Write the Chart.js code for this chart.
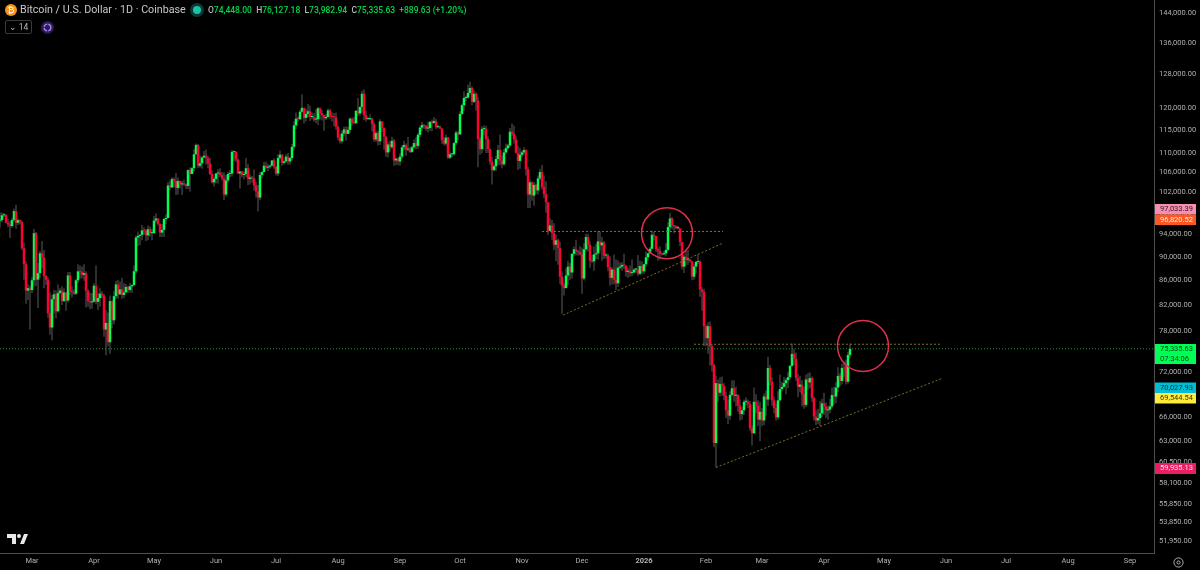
<!DOCTYPE html>
<html>
<head>
<meta charset="utf-8">
<title>Bitcoin / U.S. Dollar</title>
<script src="https://cdn.jsdelivr.net/npm/chart.js@4/dist/chart.umd.min.js"></script>
<style>
    html, body { margin: 0; background: #000; }
    #wrap { position: relative; width: 1200px; height: 570px; overflow: hidden; font-family: Roboto, sans-serif; }
    canvas { position: absolute; left: 0; top: 0; }
    .abs { position: absolute; white-space: nowrap; }
    #title { left: 20px; top: 2px; font-size: 10.7px; line-height: 16px; color: #c8c8c8; }
    #ohlc { left: 208px; top: 3px; font-size: 8.5px; line-height: 14px; color: #00d84a; font-weight: 500; }
    #ohlc b { color: #b8b8b8; font-weight: 500; }
    #btc { left: 5px; top: 4px; width: 12px; height: 12px; border-radius: 50%; background: #f7931a; color: #fff; font-size: 9px; line-height: 12px; text-align: center; }
    #live { left: 193px; top: 6px; width: 8px; height: 8px; border-radius: 50%; background: #1fbfa5; box-shadow: 0 0 0 3px #0a3a34; }
    #studies { left: 5px; top: 20px; width: 25px; height: 12px; border: 1px solid #3a3a3a; border-radius: 2px; color: #b8b8b8; font-size: 8.5px; line-height: 12px; text-align: center; }
</style>
</head>
<body>
<div id="wrap">
    <canvas id="chart" width="1200" height="570"></canvas>
    <div class="abs" id="btc">₿</div>
    <div class="abs" id="title">Bitcoin / U.S. Dollar · 1D · Coinbase</div>
    <div class="abs" id="live"></div>
    <div class="abs" id="ohlc"><b>O</b>74,448.00 &nbsp;<b>H</b>76,127.18 &nbsp;<b>L</b>73,982.94 &nbsp;<b>C</b>75,335.63 &nbsp;+889.63 (+1.20%)</div>
    <div class="abs" id="studies">⌄ 14</div>
    <svg class="abs" style="left:41px;top:21px" width="13" height="13" viewBox="0 0 13 13">
        <circle cx="6.5" cy="6.5" r="6.5" fill="#2a1a55"/>
        <circle cx="6.5" cy="6.5" r="3.4" fill="none" stroke="#a583e8" stroke-width="1.4" stroke-dasharray="4.5 1"/>
    </svg>
    <svg class="abs" style="left:7px;top:533px" width="21" height="12" viewBox="0 0 21 12">
        <path d="M0 1h9v10H5V5H0zM13 11l4-10h4l-4 10z" fill="#e8e8e8"/>
        <circle cx="12" cy="3" r="2" fill="#e8e8e8"/>
    </svg>
    <svg class="abs" style="left:1172px;top:556px" width="13" height="13" viewBox="0 0 13 13">
        <circle cx="6.5" cy="6.5" r="4.6" fill="none" stroke="#b0b0b0" stroke-width="1"/>
        <circle cx="6.5" cy="6.5" r="1.6" fill="none" stroke="#b0b0b0" stroke-width="1"/>
    </svg>
</div>
<script>
// Harga harian dalam ribuan USD, mulai 13 Feb 2025, satu baris per bulan
const opens = [
    96.5,96.6,97.5,97.6,96.1,95.8,95.5,96.6,98.3,96.1,96.6,96.2,91.5,88.7,84.3,84.7,
    84.4,86.0,94.2,86.1,87.2,90.6,89.9,86.7,86.1,80.7,78.5,82.9,83.7,81.0,83.9,84.3,82.6,84.0,82.7,86.8,84.2,84.0,83.8,86.0,87.5,87.4,86.9,87.2,84.3,82.6,82.4,
    82.5,85.1,82.5,83.1,83.8,83.5,78.2,79.2,76.3,82.6,79.6,83.4,85.3,83.7,84.5,83.6,84.0,84.9,84.4,85.0,85.2,87.5,93.4,93.7,93.9,94.7,94.6,93.8,94.9,94.2,
    94.2,96.5,96.9,95.9,94.3,94.8,96.8,97.0,103.3,102.9,104.6,104.1,102.8,104.2,103.5,103.7,103.5,103.2,106.4,105.6,106.8,109.7,111.7,107.3,107.8,109.0,109.4,108.9,107.8,105.6,103.9,
    104.6,105.7,105.9,105.4,104.7,101.5,104.3,105.6,105.7,110.2,110.2,108.6,105.7,106.1,105.4,105.6,106.8,104.6,104.9,104.7,103.3,102.1,100.9,105.4,106.0,107.3,106.9,107.1,107.3,108.4,
    107.1,105.7,108.9,109.6,107.9,108.2,109.2,108.2,108.9,111.3,116.0,117.5,117.4,119.1,120.0,117.7,118.6,119.2,117.9,117.9,117.3,117.4,119.9,118.8,118.3,117.6,117.9,119.4,118.0,117.9,117.8,
    115.7,113.3,112.5,114.2,115.1,114.1,115.0,117.5,116.6,116.5,119.3,118.7,120.2,123.3,118.3,117.4,117.4,117.5,116.3,112.9,114.3,112.5,116.9,115.4,113.5,110.1,111.8,111.2,112.6,108.4,108.8,
    108.2,109.2,111.2,111.7,110.7,110.7,110.2,111.2,112.1,111.5,113.9,115.5,116.1,115.9,115.3,115.4,116.8,116.5,117.0,115.6,115.7,115.3,112.7,112.0,113.3,109.0,109.7,109.7,112.1,114.4,
    114.0,118.6,120.6,122.3,122.4,123.5,124.7,121.4,123.3,121.7,113.0,110.8,115.2,115.3,113.0,110.8,108.2,106.4,107.2,108.7,110.6,108.4,107.6,110.1,111.0,111.6,114.6,114.1,112.9,110.0,108.3,
    109.6,110.1,110.6,106.6,101.5,103.9,101.3,103.4,102.3,104.7,106.0,103.0,101.6,100.0,94.6,95.6,94.2,92.1,92.9,91.5,86.6,85.1,84.7,86.8,88.3,87.3,90.5,91.3,90.9,90.8,
    90.4,86.3,91.3,93.5,92.1,89.3,89.2,90.4,90.6,92.7,92.0,92.5,90.2,90.2,88.2,86.4,87.8,86.1,85.5,88.1,88.3,88.6,88.5,87.4,87.6,87.2,87.3,87.8,87.8,87.1,88.4,
    87.5,88.7,89.9,90.6,91.4,93.9,93.7,91.3,91.0,90.5,90.4,90.6,91.2,95.3,96.9,95.6,95.5,95.1,95.1,92.6,88.3,90.0,89.5,89.5,89.2,86.6,88.3,89.1,89.2,84.5,84.1,
    78.7,76.9,78.7,75.7,73.0,62.8,70.5,69.2,70.4,70.1,68.8,66.9,66.2,68.9,69.8,68.8,68.9,67.5,66.4,66.9,68.0,68.0,67.7,64.6,64.0,68.0,67.5,65.7,
    66.7,65.6,68.7,68.3,72.6,70.7,68.2,67.2,66.0,68.2,69.7,70.0,70.5,70.9,71.3,72.9,74.6,73.9,71.2,70.0,70.3,69.0,67.6,71.0,70.6,71.2,68.5,66.1,65.6,65.9,66.5,
    67.8,67.4,66.9,67.0,67.4,68.9,68.7,69.9,71.5,70.8,72.6,72.9,70.7,74.448
];
const highs = [
    98.1,98.0,98.0,97.7,96.9,96.5,97.0,98.8,99.5,96.9,96.7,96.5,92.5,89.2,85.4,85.1,
    86.5,95.0,94.4,88.9,91.0,92.8,91.2,86.9,86.5,84.0,83.6,84.4,84.3,85.3,84.7,85.0,84.7,84.0,87.4,87.4,85.0,84.5,86.2,88.7,88.5,88.3,88.7,87.5,84.6,83.9,83.9,
    85.5,88.5,83.9,84.7,84.2,83.8,81.2,80.8,83.5,82.7,84.2,85.9,86.1,85.8,86.4,85.5,85.4,85.1,85.6,85.3,88.5,93.8,94.5,94.0,95.7,95.3,95.0,95.6,95.4,95.0,
    97.4,97.9,97.0,96.0,95.9,97.0,97.7,104.0,104.3,104.9,104.9,105.8,104.9,104.2,104.2,104.5,103.7,106.6,107.0,107.0,110.8,112.0,111.9,109.5,109.3,110.4,110.7,109.3,108.9,106.3,105.0,
    105.8,106.6,106.8,106.0,105.9,105.4,106.0,106.4,110.6,110.4,110.4,108.8,106.2,106.2,106.1,108.9,107.7,105.5,105.2,106.5,104.0,103.4,106.0,106.2,108.1,108.2,107.7,107.5,108.5,108.8,
    107.2,109.7,110.5,109.7,108.4,109.7,110.0,109.2,111.9,116.9,118.9,118.0,119.5,123.2,120.0,119.8,120.9,120.5,118.9,118.8,119.7,120.2,120.0,119.5,118.4,118.5,119.8,119.8,119.0,118.8,118.9,
    116.0,114.0,114.8,115.7,115.8,115.7,117.8,117.7,117.9,119.5,122.3,120.3,124.0,124.4,119.3,117.9,118.5,117.7,116.8,114.7,114.8,117.4,117.0,115.6,113.6,112.4,112.6,113.5,113.0,108.9,109.0,
    109.9,111.7,112.6,112.0,113.4,111.3,111.5,112.9,113.3,114.3,115.9,116.8,116.3,116.1,116.8,117.0,117.3,117.9,117.5,116.1,116.0,115.4,113.4,114.0,113.5,110.3,109.9,112.3,114.8,114.7,
    119.2,121.0,123.9,122.9,125.5,126.2,125.1,124.1,123.7,122.5,113.4,115.8,116.0,115.9,113.6,111.0,109.2,107.5,109.4,111.7,114.0,109.5,110.9,112.0,111.9,115.4,116.4,116.0,113.6,111.6,111.1,
    110.5,111.2,110.8,107.1,104.5,104.1,104.0,103.6,105.3,106.7,107.5,105.3,104.1,99.8,97.0,96.6,96.0,93.9,93.2,92.6,87.5,85.5,88.0,89.3,88.9,90.6,91.8,93.0,91.2,91.9,
    91.6,92.4,94.1,94.1,92.7,90.3,91.8,92.3,94.6,94.5,93.5,92.8,90.6,90.5,90.1,88.2,90.4,89.5,89.4,89.0,89.1,90.5,88.3,88.0,88.5,89.5,88.0,88.1,90.3,89.3,89.2,
    88.8,90.9,90.7,91.7,94.7,94.4,93.5,91.6,91.8,90.7,91.0,92.4,96.2,97.9,97.2,95.7,95.6,95.5,93.3,92.5,90.4,91.0,91.2,89.7,89.2,88.7,89.3,90.4,89.4,84.9,84.6,
    79.0,79.3,79.4,76.0,73.2,71.5,71.0,71.3,71.4,70.5,69.3,68.3,69.4,70.9,70.9,70.0,69.0,68.3,67.3,68.3,68.6,68.3,68.1,65.0,69.9,69.0,68.2,68.0,
    67.2,69.1,69.5,74.2,73.0,71.3,68.7,67.8,69.4,71.7,70.7,71.3,71.2,72.0,73.0,76.1,75.3,74.8,71.8,71.5,70.9,70.0,71.7,71.9,72.0,71.4,68.7,66.9,67.1,68.1,68.4,
    69.2,67.9,67.5,68.4,69.9,70.0,70.6,72.7,71.9,73.2,73.5,73.8,74.9,76.127
];
const lows = [
    95.2,96.2,97.2,96.0,95.3,93.3,95.2,96.4,95.0,95.7,95.8,91.2,86.1,82.2,82.8,78.2,
    83.9,85.0,85.0,81.5,86.4,88.0,84.7,85.2,80.0,77.4,76.6,80.6,79.9,80.8,83.7,82.0,82.5,81.1,82.4,83.6,83.2,83.6,83.6,85.5,86.3,86.3,85.9,81.6,81.7,81.3,81.4,
    82.4,82.1,81.2,81.7,83.1,77.1,74.4,75.7,74.6,78.4,79.0,83.0,83.0,83.6,83.0,83.1,84.1,83.9,84.0,83.9,85.0,87.1,91.9,92.0,92.9,93.9,92.8,92.9,93.6,92.9,
    94.1,96.0,95.6,93.5,93.5,93.5,95.9,96.9,102.3,102.8,103.0,101.4,101.5,102.7,101.4,103.2,102.6,102.6,102.1,105.8,106.1,109.5,106.8,106.9,106.7,108.9,107.5,106.8,105.4,103.7,103.1,
    103.7,103.7,105.0,104.3,100.4,101.1,103.9,105.0,105.1,108.3,108.1,105.6,102.7,104.9,104.5,105.0,103.4,103.5,103.9,102.3,100.9,98.2,100.4,104.7,105.9,106.7,106.2,106.7,107.3,106.7,
    105.3,105.2,108.6,107.3,107.5,107.9,107.5,107.5,108.4,110.5,115.2,116.9,117.2,118.9,116.4,116.9,117.8,117.0,117.3,116.8,116.5,116.1,117.3,117.1,114.8,117.2,117.8,117.4,116.9,115.8,115.0,
    112.7,112.0,112.0,113.6,112.6,114.3,114.3,115.9,116.3,116.3,118.1,118.2,118.9,117.2,116.8,117.3,117.2,114.7,112.4,112.4,111.6,111.7,114.6,110.7,109.2,109.0,110.3,110.9,107.3,107.4,107.4,
    107.3,108.7,110.5,109.4,110.4,110.0,110.0,110.9,110.7,110.9,113.4,114.7,115.2,114.8,114.4,114.8,114.7,116.8,115.2,115.4,115.2,111.9,111.6,111.6,108.7,108.7,109.1,109.4,111.6,112.7,
    113.9,118.4,119.3,121.6,122.1,123.0,120.6,121.1,119.4,107.0,109.6,109.9,113.8,110.0,110.0,107.5,103.5,106.1,106.2,107.5,107.4,106.8,107.3,109.7,110.8,111.3,113.7,112.0,109.9,106.4,106.7,
    109.2,109.6,105.3,98.9,98.9,100.3,99.3,101.6,101.5,104.4,102.5,100.8,98.0,93.9,94.6,93.0,91.2,89.2,88.6,85.4,80.6,83.5,85.3,85.2,86.1,86.3,90.1,90.2,90.2,90.2,
    83.8,86.0,90.9,90.9,88.1,88.9,87.6,89.6,89.5,91.1,89.3,89.6,89.7,87.6,85.1,85.3,85.3,84.4,84.9,87.9,87.6,87.9,86.6,86.4,86.6,86.7,87.3,87.3,86.7,86.9,87.1,
    87.0,88.3,89.3,90.5,91.3,92.9,90.8,89.3,89.5,90.2,90.3,90.1,91.0,94.5,94.9,94.2,94.9,94.9,91.9,87.8,87.2,88.5,88.6,89.0,86.0,86.1,87.1,88.7,83.3,81.1,75.7,
    75.7,74.6,72.9,72.1,62.3,59.935,68.0,68.7,68.8,68.2,65.9,65.1,65.7,68.7,68.0,67.4,66.7,65.6,65.7,66.3,67.5,67.2,64.3,62.5,63.9,66.5,64.9,63.0,
    64.9,65.0,66.2,67.5,70.2,67.5,66.5,65.6,65.7,68.0,69.4,69.9,69.0,69.8,71.0,72.7,73.0,70.8,68.6,69.3,67.4,67.1,67.3,69.6,69.8,68.0,65.6,65.0,65.1,64.9,66.0,
    66.3,65.9,65.7,66.5,67.2,67.6,67.8,69.3,70.1,70.3,71.3,70.3,70.4,73.983
];
const closes = [
    96.6,97.5,97.6,96.1,95.8,95.5,96.6,98.3,96.1,96.6,96.2,91.5,88.7,84.3,84.7,84.4,
    86.0,94.2,86.1,87.2,90.6,89.9,86.7,86.1,80.7,78.5,82.9,83.7,81.0,83.9,84.3,82.6,84.0,82.7,86.8,84.2,84.0,83.8,86.0,87.5,87.4,86.9,87.2,84.3,82.6,82.4,82.5,
    85.1,82.5,83.1,83.8,83.5,78.2,79.2,76.3,82.6,79.6,83.4,85.3,83.7,84.5,83.6,84.0,84.9,84.4,85.0,85.2,87.5,93.4,93.7,93.9,94.7,94.6,93.8,94.9,94.2,94.2,
    96.5,96.9,95.9,94.3,94.8,96.8,97.0,103.3,102.9,104.6,104.1,102.8,104.2,103.5,103.7,103.5,103.2,106.4,105.6,106.8,109.7,111.7,107.3,107.8,109.0,109.4,108.9,107.8,105.6,103.9,104.6,
    105.7,105.9,105.4,104.7,101.5,104.3,105.6,105.7,110.2,110.2,108.6,105.7,106.1,105.4,105.6,106.8,104.6,104.9,104.7,103.3,102.1,100.9,105.4,106.0,107.3,106.9,107.1,107.3,108.4,107.1,
    105.7,108.9,109.6,107.9,108.2,109.2,108.2,108.9,111.3,116.0,117.5,117.4,119.1,120.0,117.7,118.6,119.2,117.9,117.9,117.3,117.4,119.9,118.8,118.3,117.6,117.9,119.4,118.0,117.9,117.8,115.7,
    113.3,112.5,114.2,115.1,114.1,115.0,117.5,116.6,116.5,119.3,118.7,120.2,123.3,118.3,117.4,117.4,117.5,116.3,112.9,114.3,112.5,116.9,115.4,113.5,110.1,111.8,111.2,112.6,108.4,108.8,108.2,
    109.2,111.2,111.7,110.7,110.7,110.2,111.2,112.1,111.5,113.9,115.5,116.1,115.9,115.3,115.4,116.8,116.5,117.0,115.6,115.7,115.3,112.7,112.0,113.3,109.0,109.7,109.7,112.1,114.4,114.0,
    118.6,120.6,122.3,122.4,123.5,124.7,121.4,123.3,121.7,113.0,110.8,115.2,115.3,113.0,110.8,108.2,106.4,107.2,108.7,110.6,108.4,107.6,110.1,111.0,111.6,114.6,114.1,112.9,110.0,108.3,109.6,
    110.1,110.6,106.6,101.5,103.9,101.3,103.4,102.3,104.7,106.0,103.0,101.6,100.0,94.6,95.6,94.2,92.1,92.9,91.5,86.6,85.1,84.7,86.8,88.3,87.3,90.5,91.3,90.9,90.8,90.4,
    86.3,91.3,93.5,92.1,89.3,89.2,90.4,90.6,92.7,92.0,92.5,90.2,90.2,88.2,86.4,87.8,86.1,85.5,88.1,88.3,88.6,88.5,87.4,87.6,87.2,87.3,87.8,87.8,87.1,88.4,87.5,
    88.7,89.9,90.6,91.4,93.9,93.7,91.3,91.0,90.5,90.4,90.6,91.2,95.3,96.9,95.6,95.5,95.1,95.1,92.6,88.3,90.0,89.5,89.5,89.2,86.6,88.3,89.1,89.2,84.5,84.1,78.7,
    76.9,78.7,75.7,73.0,62.8,70.5,69.2,70.4,70.1,68.8,66.9,66.2,68.9,69.8,68.8,68.9,67.5,66.4,66.9,68.0,68.0,67.7,64.6,64.0,68.0,67.5,65.7,66.7,
    65.6,68.7,68.3,72.6,70.7,68.2,67.2,66.0,68.2,69.7,70.0,70.5,70.9,71.3,72.9,74.6,73.9,71.2,70.0,70.3,69.0,67.6,71.0,70.6,71.2,68.5,66.1,65.6,65.9,66.5,67.8,
    67.4,66.9,67.0,67.4,68.9,68.7,69.9,71.5,70.8,72.6,72.5,70.7,74.448,75.336
];

// Label sumbu; hari dihitung dari 1 Mar 2025
const monthLabels = ['Mar','Apr','May','Jun','Jul','Aug','Sep','Oct','Nov','Dec','2026','Feb','Mar','Apr','May','Jun','Jul','Aug','Sep'];
const monthDays = [0,31,61,92,122,153,184,214,245,275,306,337,365,396,426,457,487,518,549];
const priceTicks = [144000,136000,128000,120000,115000,110000,106000,102000,98000,94000,90000,86000,82000,78000,74000,72000,69000,66000,63000,60500,58100,55850,53850,51950];

// Garis yang digambar tangan: [hari, harga dalam ribuan]
const resistance1 = [[255,94.5],[345.5,94.5]];
const support1 = [[265.5,80.4],[345.5,92.4]];
const resistance2 = [[331,76.0],[455,76.0]];
const support2 = [[342,59.9],[455.5,71.2]];
const lastPrice = 75.336;
const circles = [[317.5,94.2],[415.5,75.75]];

// Label harga di sumbu kanan
const priceTags = [
    { text: '97,033.39', bg: '#f48fb1', fg: '#3a1020', top: 204, h: 10.5 },
    { text: '96,820.52', bg: '#ff5722', fg: '#ffe9e0', top: 214.5, h: 10.5 },
    { text: '75,335.63', sub: '07:34:06', bg: '#00ff55', fg: '#04451c', top: 344, h: 20 },
    { text: '70,027.93', bg: '#00bcd4', fg: '#03343b', top: 382.5, h: 10.5 },
    { text: '69,544.54', bg: '#ffeb3b', fg: '#3d3700', top: 393, h: 10.5 },
    { text: '59,935.13', bg: '#e91e63', fg: '#ffe3ec', top: 463, h: 11 }
];

const FIRST_DAY = -16;
const GREEN = '#00ff55';
const RED = '#ff0033';
const GOLD = '#7d6e2e';

if (opens.length !== closes.length || highs.length !== closes.length || lows.length !== closes.length) {
    throw new Error('panjang data beda: ' + [opens.length, highs.length, lows.length, closes.length].join(','));
}

const toPoints = rows => rows.map(r => ({ x: r[0], y: r[1] * 1000 }));

function dottedLine(rows, color, dash) {
    return {
        type: 'line',
        data: toPoints(rows),
        borderColor: color,
        borderWidth: 1,
        borderDash: dash,
        pointRadius: 0,
        order: 0
    };
}

const tagPlugin = {
    id: 'priceTags',
    afterDraw(chart) {
        const ctx = chart.ctx;
        ctx.save();
        ctx.textBaseline = 'middle';
        ctx.textAlign = 'left';
        ctx.font = '7.5px Roboto';
        priceTags.forEach(tag => {
            ctx.fillStyle = tag.bg;
            ctx.fillRect(1155, tag.top, 41, tag.h);
            ctx.fillStyle = tag.fg;
            if (tag.sub) {
                ctx.fillText(tag.text, 1160, tag.top + 5.5);
                ctx.fillText(tag.sub, 1160, tag.top + 15);
            } else {
                ctx.fillText(tag.text, 1160, tag.top + tag.h / 2);
            }
        });
        ctx.restore();
    }
};

new Chart(document.getElementById('chart').getContext('2d'), {
    type: 'bar',
    data: {
        datasets: [
            {
                data: closes.map((c, i) => ({ x: FIRST_DAY + i, y: [opens[i] * 1000, c * 1000] })),
                backgroundColor: closes.map((c, i) => c >= opens[i] ? GREEN : RED),
                barThickness: 2.5,
                minBarLength: 1,
                grouped: false,
                inflateAmount: 0,
                order: 1
            },
            {
                data: closes.map((c, i) => ({ x: FIRST_DAY + i, y: [lows[i] * 1000, highs[i] * 1000] })),
                backgroundColor: '#5c5c5c',
                barThickness: 1,
                grouped: false,
                inflateAmount: 0,
                order: 2
            },
            dottedLine(resistance1, GOLD, [2, 2]),
            dottedLine(support1, GOLD, [2, 2]),
            dottedLine(resistance2, GOLD, [2, 2]),
            dottedLine(support2, GOLD, [2, 2]),
            dottedLine([[FIRST_DAY, lastPrice], [561, lastPrice]], '#17913f', [1, 2]),
            {
                type: 'scatter',
                data: toPoints(circles),
                pointRadius: 25.5,
                pointBackgroundColor: 'rgba(0,0,0,0)',
                pointBorderColor: '#e0304a',
                pointBorderWidth: 1.5,
                order: -1
            }
        ]
    },
    options: {
        responsive: false,
        animation: false,
        events: [],
        layout: { padding: 0, autoPadding: false },
        plugins: { legend: { display: false }, tooltip: { enabled: false } },
        scales: {
            x: {
                type: 'linear',
                min: FIRST_DAY,
                max: 561,
                offset: false,
                grid: { display: false, drawTicks: false },
                border: { display: true, color: '#4d4d4d' },
                afterFit(scale) { scale.height = 17; scale.paddingLeft = 0; scale.paddingRight = 0; },
                afterBuildTicks(scale) { scale.ticks = monthDays.map(d => ({ value: d })); },
                ticks: {
                    autoSkip: false,
                    maxRotation: 0,
                    padding: 4,
                    color: '#b0b0b0',
                    font: ctx => ({ family: 'Roboto', size: 7.5, weight: monthLabels[ctx.index] === '2026' ? 'bold' : 'normal' }),
                    callback: (value, index) => monthLabels[index]
                }
            },
            y: {
                type: 'logarithmic',
                position: 'right',
                min: 50775,
                max: 147800,
                grid: { display: false, drawTicks: false },
                border: { display: true, color: '#4d4d4d' },
                // tanpa ini label teratas mendorong area plot ke bawah
                afterFit(scale) { scale.width = 46; scale.paddingTop = 0; scale.paddingBottom = 0; },
                afterBuildTicks(scale) { scale.ticks = priceTicks.map(v => ({ value: v })); },
                ticks: {
                    autoSkip: false,
                    padding: 5,
                    color: '#b0b0b0',
                    font: { family: 'Roboto', size: 7.5 },
                    callback: value => value.toLocaleString('en-US', { minimumFractionDigits: 2 })
                }
            }
        }
    },
    plugins: [tagPlugin]
});
</script>
</body>
</html>
